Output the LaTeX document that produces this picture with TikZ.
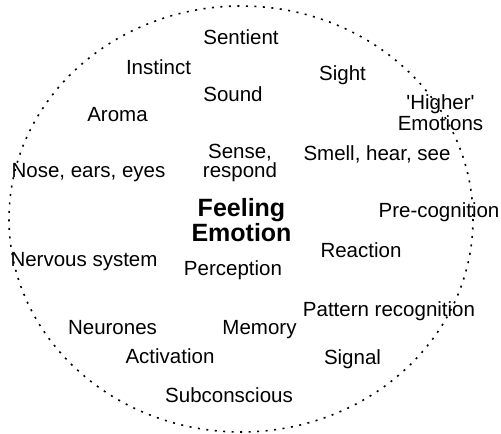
\documentclass[tikz,border=0pt]{standalone}
\usepackage{fontspec}
\setmainfont{Liberation Sans}[Ligatures=TeXOff]
\begin{document}
\begin{tikzpicture}[x=1pt,y=-1pt,
  term/.style={inner sep=0pt,anchor=base,font=\fontsize{20.5}{19}\selectfont,align=center},
  pair/.style={term,font=\fontsize{20.5}{17}\selectfont},
  core/.style={inner sep=0pt,anchor=base,font=\fontsize{25}{23}\selectfont\bfseries,align=center},
  boundary/.style={line width=1.6pt,dash pattern=on 2pt off 6.5pt}]
\useasboundingbox (0,0) rectangle (501,434);
% dotted boundary around the field of terms
\draw[boundary] (241,219) ellipse [x radius=232, y radius=213];
% central concept (base anchor sits on the last line)
\node[core] (feeling) at (241.5,241) {Feeling\\Emotion};
% surrounding terms
\node[term] (sentient) at (241,44) {Sentient};
\node[term] (instinct) at (158.5,74) {Instinct};
\node[term] (sight) at (342.5,80) {Sight};
\node[term] (sound) at (233,101) {Sound};
\node[term] (aroma) at (117.5,121) {Aroma};
\node[term] (higher) at (440.5,130) {'Higher'\\Emotions};
\node[pair] (sense) at (240,177) {Sense,\\respond};
\node[term] (smell) at (377,160) {Smell, hear, see};
\node[term] (nose) at (88.5,177) {Nose, ears, eyes};
\node[term] (precog) at (439,217) {Pre-cognition};
\node[term] (reaction) at (361,257) {Reaction};
\node[term] (nervous) at (84,266) {Nervous system};
\node[term] (perception) at (233,275) {Perception};
\node[term] (pattern) at (389,316) {Pattern recognition};
\node[term] (neurones) at (112.5,334) {Neurones};
\node[term] (memory) at (259.5,334) {Memory};
\node[term] (activation) at (170,363) {Activation};
\node[term] (signal) at (352.5,364) {Signal};
\node[term] (subconscious) at (229,402) {Subconscious};
\end{tikzpicture}
\end{document}
